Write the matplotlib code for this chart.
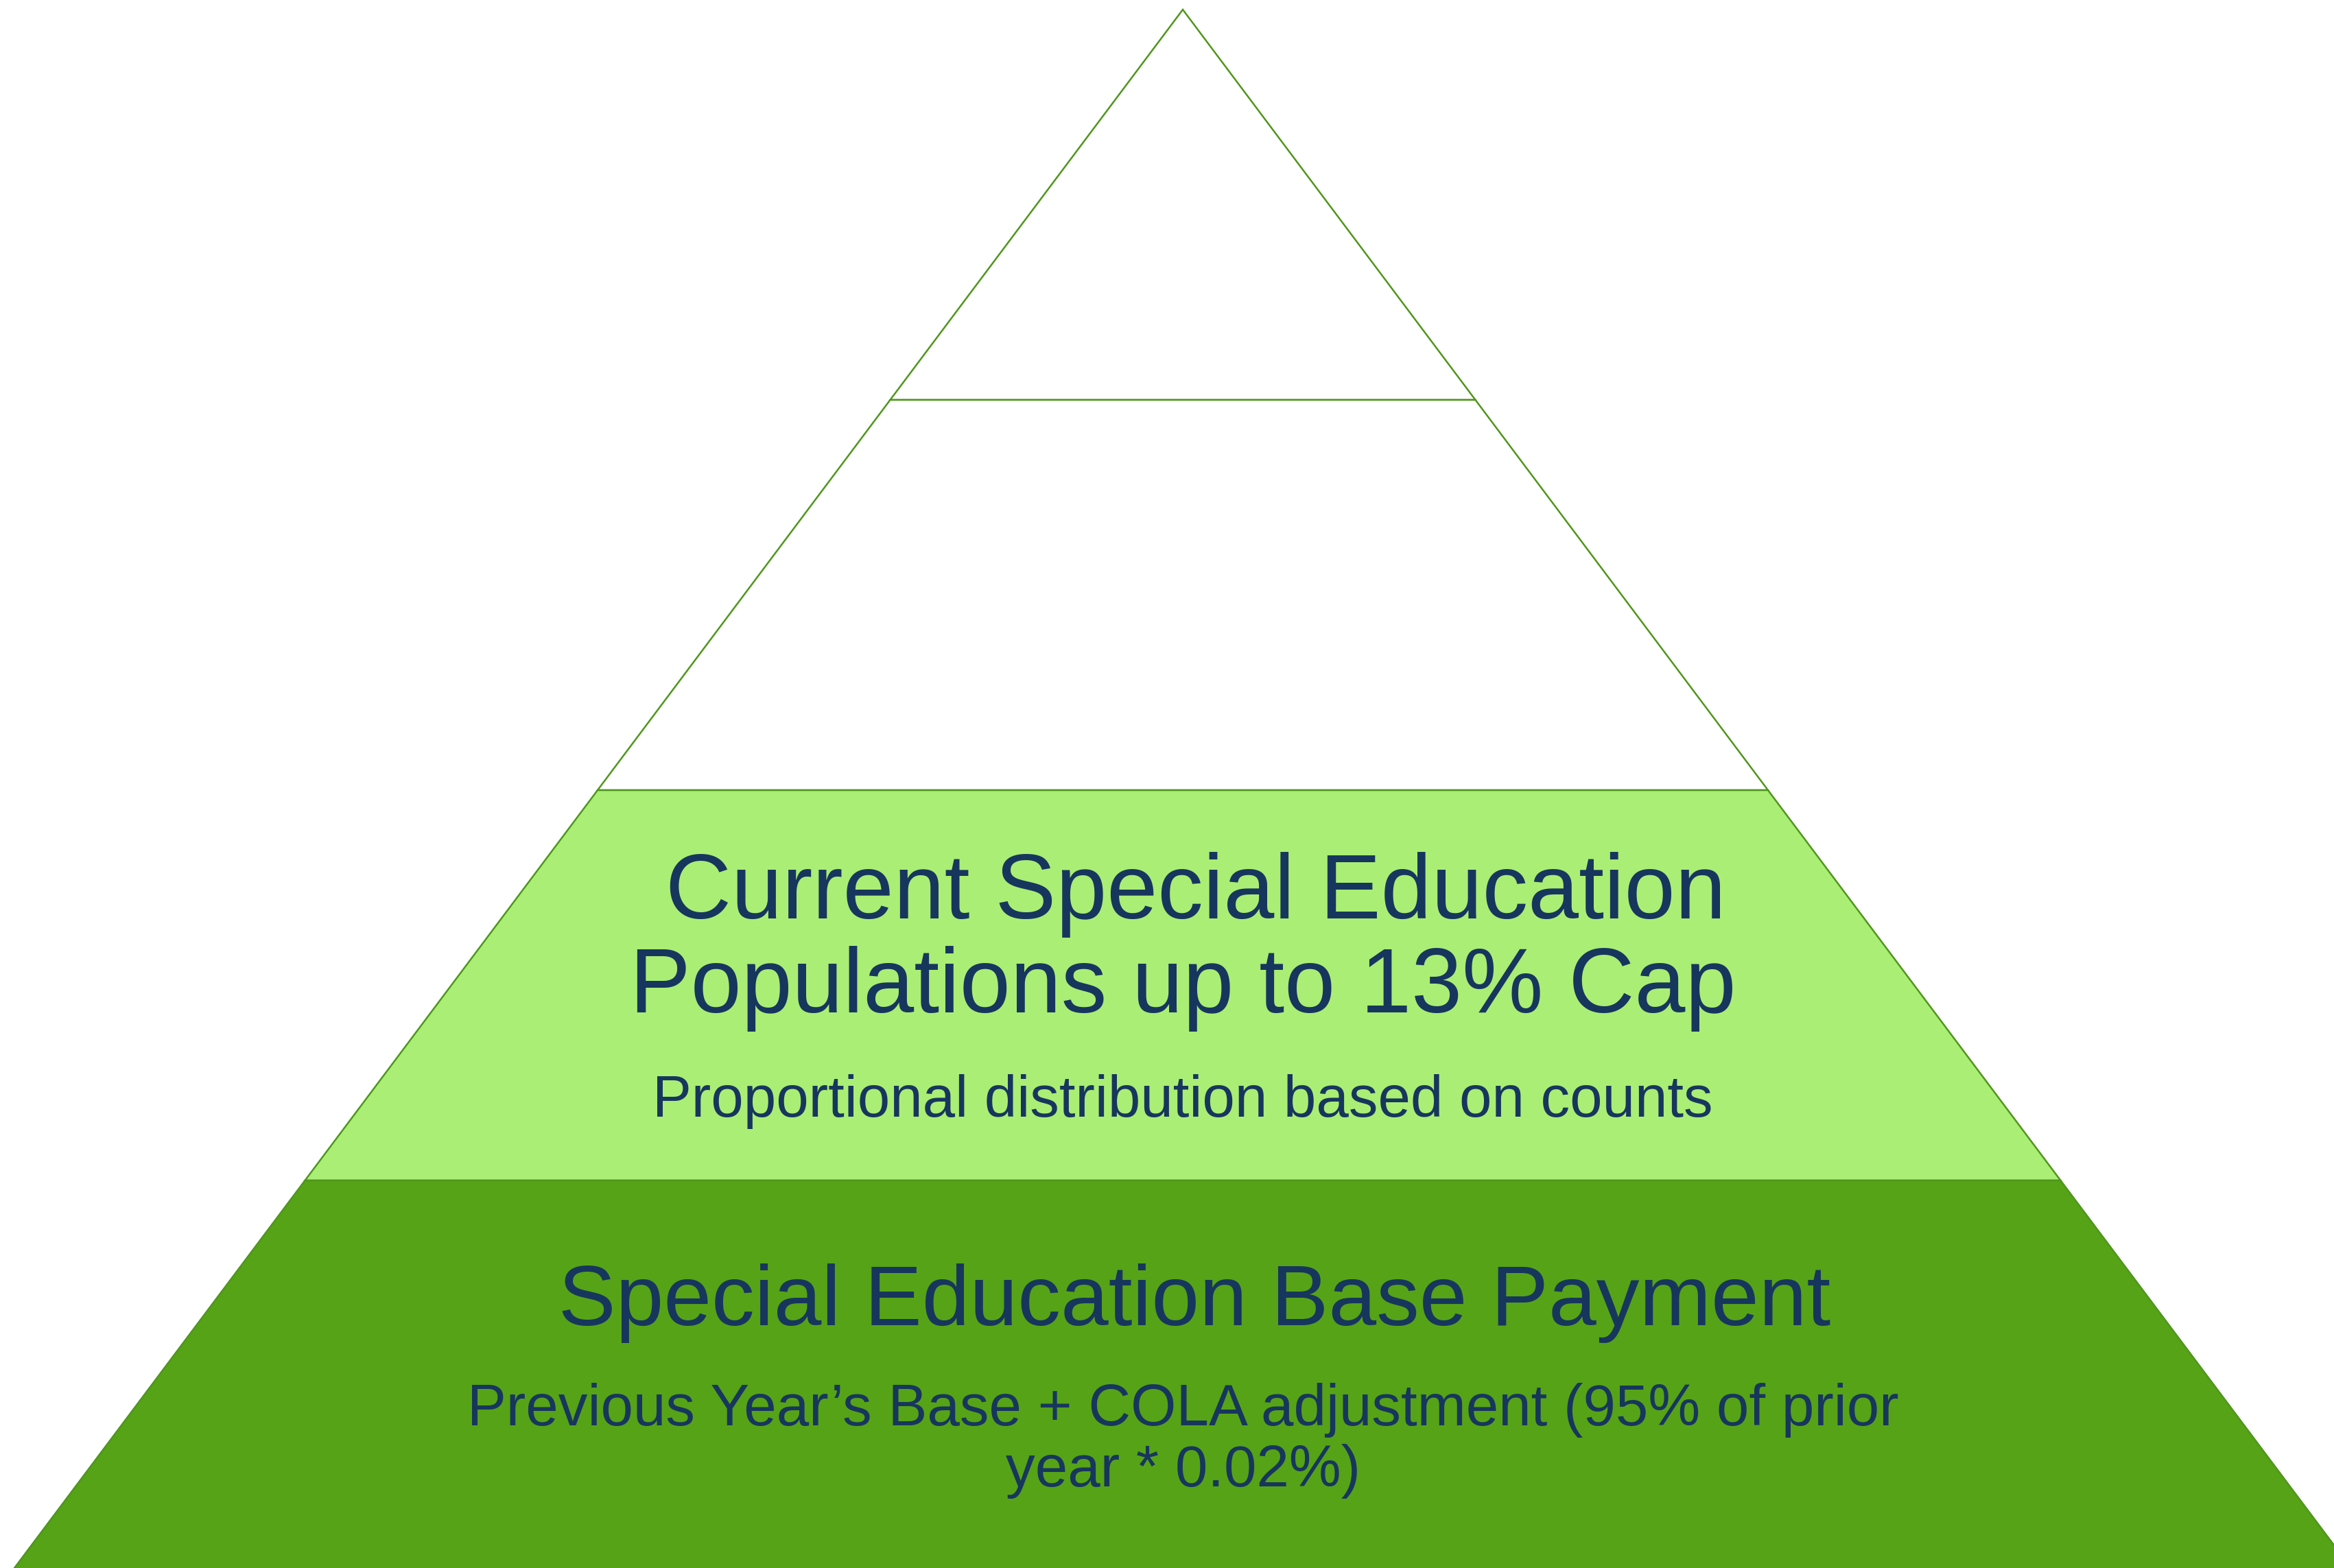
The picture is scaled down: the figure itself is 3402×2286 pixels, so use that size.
import matplotlib.pyplot as plt
from matplotlib.patches import Polygon

# four equal tiers, top to bottom
tiers = ["top", "second", "populations", "base"]
tier_fill = ["white", "white", "#aaee75", "#56a317"]

# text lines: (text, baseline y in px, font size pt)
labels = [
    (" Current Special Education", 1339, 95.8),
    ("Populations up to 13% Cap", 1476, 95.8),
    ("Proportional distribution based on counts", 1628, 61.4),
    (" Special Education Base Payment", 1932, 90.3),
    ("Previous Year\u2019s Base + COLA adjustment (95% of prior", 2078, 61.5),
    ("year * 0.02%)", 2167, 61.5),
]

W, H = 3402, 2286
apex_x, apex_y = 1724, 14
base_y = 2290
half_base = 1706
line_col = "#4f961c"
text_col = "#17365d"

fig = plt.figure(figsize=(W / 100, H / 100), dpi=100)
ax = fig.add_axes([0, 0, 1, 1])
ax.set_xlim(0, W)
ax.set_ylim(H, 0)
ax.axis("off")

n = len(tiers)
tier_h = (base_y - apex_y) / n

def half_w(y):
    return half_base * (y - apex_y) / (base_y - apex_y)

for i, fill in enumerate(tier_fill):
    y0 = apex_y + i * tier_h
    y1 = y0 + tier_h
    w0, w1 = half_w(y0), half_w(y1)
    pts = [(apex_x - w0, y0), (apex_x + w0, y0), (apex_x + w1, y1), (apex_x - w1, y1)]
    ax.add_patch(Polygon(pts, closed=True, facecolor=fill, edgecolor=line_col, lw=1.8))

for txt, y, fs in labels:
    ax.text(apex_x, y, txt, ha="center", va="baseline", fontsize=fs,
            color=text_col, family="Liberation Sans")

fig.savefig("out.png", dpi=100)
